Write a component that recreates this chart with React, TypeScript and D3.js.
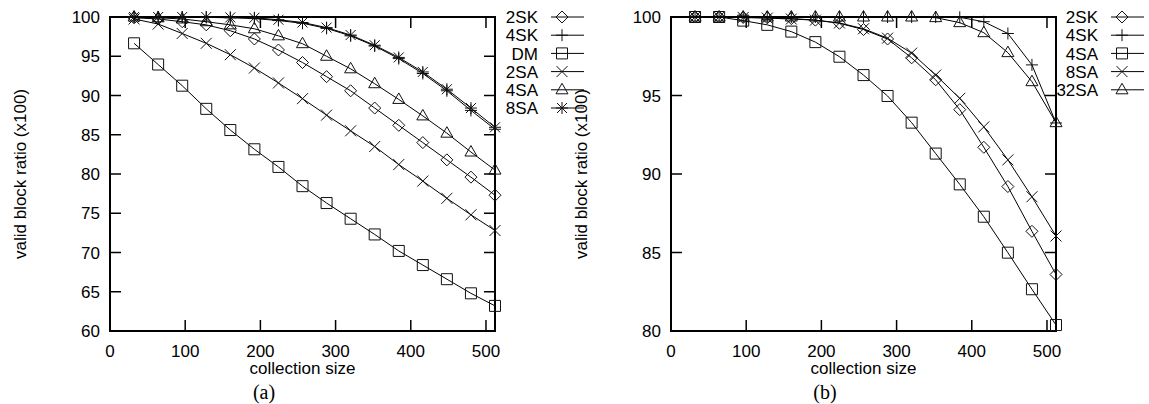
import React from 'react';
import * as d3 from 'd3';

const sizes = [32, 64, 96, 128, 160, 192, 224, 256, 288, 320, 352, 384, 416, 448, 480, 512];
const xTicks = [0, 100, 200, 300, 400, 500];

// panel (a)
const aLabels = ['2SK', '4SK', 'DM', '2SA', '4SA', '8SA'];
const a2SK = [99.9, 99.75, 99.4, 99.0, 98.25, 97.2, 95.8, 94.2, 92.4, 90.6, 88.4, 86.2, 84.0, 81.8, 79.6, 77.3];
const a4SK = [100, 100, 100, 99.95, 99.9, 99.8, 99.55, 99.2, 98.55, 97.6, 96.3, 94.7, 92.8, 90.6, 88.1, 85.7];
const aDM = [96.65, 93.95, 91.25, 88.3, 85.6, 83.15, 80.9, 78.45, 76.3, 74.3, 72.3, 70.2, 68.4, 66.6, 64.8, 63.2];
const a2SA = [99.75, 99.1, 97.9, 96.65, 95.2, 93.5, 91.6, 89.6, 87.5, 85.5, 83.5, 81.2, 79.1, 76.9, 74.8, 72.8];
const a4SA = [100, 99.9, 99.75, 99.4, 99.0, 98.5, 97.6, 96.6, 95.0, 93.4, 91.5, 89.5, 87.4, 85.2, 82.8, 80.5];
const a8SA = [100, 100, 100, 100, 99.95, 99.9, 99.65, 99.3, 98.65, 97.7, 96.4, 94.85, 93.0, 90.8, 88.4, 85.95];
const aYTicks = [60, 65, 70, 75, 80, 85, 90, 95, 100];

// panel (b)
const bLabels = ['2SK', '4SK', '4SA', '8SA', '32SA'];
const b2SK = [100, 100, 99.97, 99.95, 99.9, 99.8, 99.6, 99.2, 98.6, 97.4, 96.0, 94.1, 91.7, 89.2, 86.35, 83.6];
const b4SK = [100, 100, 100, 100, 100, 100, 100, 100, 100, 100, 100, 99.98, 99.7, 98.95, 96.95, 93.25];
const b4SA = [100, 100, 99.77, 99.5, 99.07, 98.4, 97.47, 96.3, 94.97, 93.27, 91.3, 89.34, 87.28, 84.99, 82.66, 80.38];
const b8SA = [100, 100, 99.97, 99.93, 99.87, 99.8, 99.62, 99.25, 98.65, 97.7, 96.3, 94.82, 93.0, 90.9, 88.55, 86.05];
const b32SA = [100, 100, 100, 100, 100, 100, 100, 100, 100, 100, 99.96, 99.64, 99.0, 97.73, 95.88, 93.27];
const bYTicks = [80, 85, 90, 95, 100];

const FONT = '"Liberation Sans", Arial, Helvetica, sans-serif';

type Sym = 'diamond' | 'plus' | 'box' | 'cross' | 'tri' | 'star';

const Marker = ({ x, y, t }: { x: number; y: number; t: Sym }) => {
  const s = 6;
  let d = '';
  if (t === 'diamond') d = `M${x},${y - s}L${x + s},${y}L${x},${y + s}L${x - s},${y}Z`;
  else if (t === 'plus') d = `M${x - s},${y}H${x + s}M${x},${y - s}V${y + s}`;
  else if (t === 'box') d = `M${x - 5.5},${y - 5.5}h11v11h-11Z`;
  else if (t === 'cross') d = `M${x - 5.5},${y - 5.5}L${x + 5.5},${y + 5.5}M${x - 5.5},${y + 5.5}L${x + 5.5},${y - 5.5}`;
  else if (t === 'tri') d = `M${x},${y - 6.5}L${x + 6},${y + 4}L${x - 6},${y + 4}Z`;
  else
    d = `M${x - s},${y}H${x + s}M${x},${y - s}V${y + s}M${x - 5},${y - 5}L${x + 5},${y + 5}M${x - 5},${y + 5}L${x + 5},${y - 5}`;
  return <path d={d} fill="none" stroke="#111" strokeWidth={1} />;
};

type Series = { label: string; values: number[]; sym: Sym };

const Panel = ({
  left,
  series,
  yDomain,
  yTicks,
  caption,
  legendX,
  captionX,
}: {
  left: number;
  series: Series[];
  yDomain: [number, number];
  yTicks: number[];
  caption: string;
  legendX: number;
  captionX: number;
}) => {
  const top = 17;
  const bottom = 331;
  const x = d3.scaleLinear().domain([0, 512]).range([left, left + 385]);
  const y = d3.scaleLinear().domain(yDomain).range([bottom, top]);
  const right = x(512);
  const line = d3
    .line<number>()
    .x((_, i) => x(sizes[i]))
    .y((d) => y(d));
  const tl = 11;
  const cx = (left + right) / 2;

  return (
    <g>
      {/* ticks */}
      {yTicks.map((t) => (
        <g key={'y' + t}>
          <line x1={left} x2={left + tl} y1={y(t)} y2={y(t)} stroke="#000" strokeWidth={1.5} />
          <line x1={right} x2={right - tl} y1={y(t)} y2={y(t)} stroke="#000" strokeWidth={1.5} />
          <text x={left - 10} y={y(t)} dy="0.36em" textAnchor="end" fontSize={17} fontFamily={FONT}>
            {t}
          </text>
        </g>
      ))}
      {xTicks.map((t) => (
        <g key={'x' + t}>
          <line x1={x(t)} x2={x(t)} y1={bottom} y2={bottom - tl} stroke="#000" strokeWidth={1.5} />
          <line x1={x(t)} x2={x(t)} y1={top} y2={top + tl} stroke="#000" strokeWidth={1.5} />
          <text x={x(t)} y={357} textAnchor="middle" fontSize={17} fontFamily={FONT}>
            {t}
          </text>
        </g>
      ))}
      <rect x={left} y={top} width={right - left} height={bottom - top} fill="none" stroke="#000" strokeWidth={2} />

      {/* series */}
      {series.map((s) => (
        <g key={s.label}>
          <path d={line(s.values) || ''} fill="none" stroke="#000" strokeWidth={1} />
          {s.values.map((v, i) => (
            <Marker key={i} x={x(sizes[i])} y={y(v)} t={s.sym} />
          ))}
        </g>
      ))}

      {/* legend */}
      {series.map((s, i) => {
        const ly = 17 + i * 18.2;
        return (
          <g key={'lg' + s.label}>
            <text x={legendX} y={ly} dy="0.36em" textAnchor="end" fontSize={17} fontFamily={FONT}>
              {s.label}
            </text>
            <line x1={legendX + 13} x2={legendX + 46} y1={ly} y2={ly} stroke="#000" strokeWidth={1} />
            <Marker x={legendX + 24} y={ly} t={s.sym} />
          </g>
        );
      })}

      {/* labels */}
      <text
        transform={`translate(${left - 90},${(top + bottom) / 2}) rotate(-90)`}
        dy="0.36em"
        textAnchor="middle"
        fontSize={17}
        fontFamily={FONT}
      >
        valid block ratio (x100)
      </text>
      <text x={cx} y={374} textAnchor="middle" fontSize={17} fontFamily={FONT}>
        collection size
      </text>
      <text x={captionX} y={399} textAnchor="middle" fontSize={20} fontFamily='"Liberation Serif", "DejaVu Serif", serif'>
        {caption}
      </text>
    </g>
  );
};

export default function App() {
  const aSeries: Series[] = [
    { label: aLabels[0], values: a2SK, sym: 'diamond' },
    { label: aLabels[1], values: a4SK, sym: 'plus' },
    { label: aLabels[2], values: aDM, sym: 'box' },
    { label: aLabels[3], values: a2SA, sym: 'cross' },
    { label: aLabels[4], values: a4SA, sym: 'tri' },
    { label: aLabels[5], values: a8SA, sym: 'star' },
  ];
  const bSeries: Series[] = [
    { label: bLabels[0], values: b2SK, sym: 'diamond' },
    { label: bLabels[1], values: b4SK, sym: 'plus' },
    { label: bLabels[2], values: b4SA, sym: 'box' },
    { label: bLabels[3], values: b8SA, sym: 'cross' },
    { label: bLabels[4], values: b32SA, sym: 'tri' },
  ];
  return (
    <svg
      width={1149}
      height={404}
      style={{ position: 'absolute', left: 0, top: 0, background: '#fff', display: 'block' }}
    >
      <Panel left={110} series={aSeries} yDomain={[60, 100]} yTicks={aYTicks} caption="(a)" legendX={538} captionX={264} />
      <Panel left={671} series={bSeries} yDomain={[80, 100]} yTicks={bYTicks} caption="(b)" legendX={1098} captionX={825} />
    </svg>
  );
}
